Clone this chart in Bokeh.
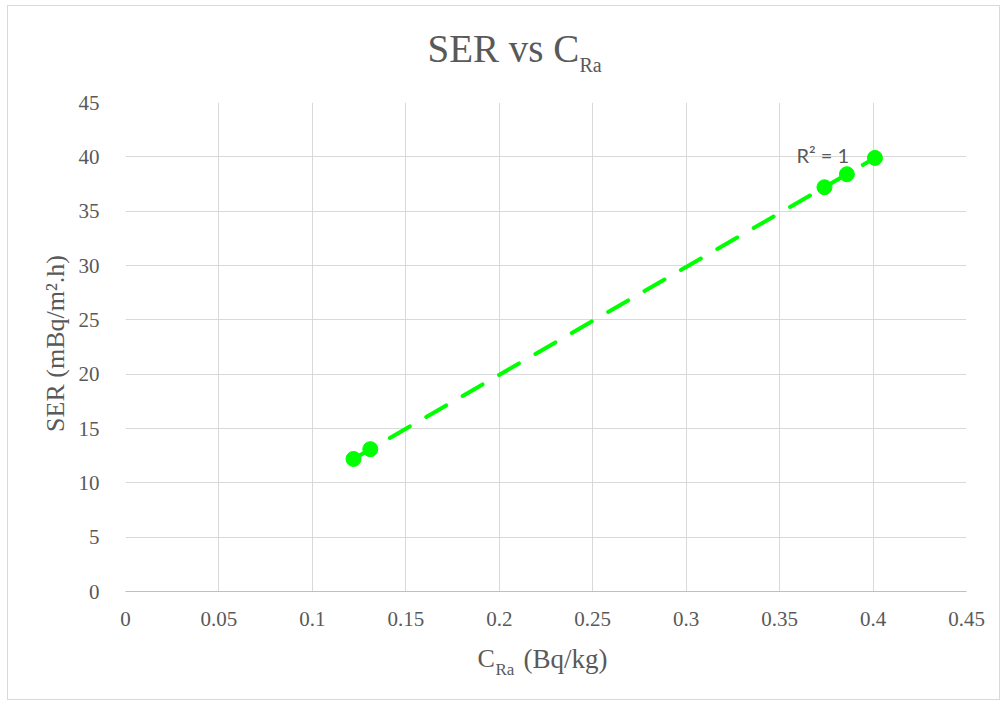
import numpy as np
from math import pi
from bokeh.plotting import figure
from bokeh.models import Label, FixedTicker
from bokeh.embed import file_html
from bokeh.resources import INLINE

# ---- data ----
c_ra = [0.122, 0.131, 0.374, 0.386, 0.401]
ser = [12.2, 13.1, 37.2, 38.4, 39.9]
x_ticks = [0, 0.05, 0.1, 0.15, 0.2, 0.25, 0.3, 0.35, 0.4, 0.45]
x_labels = ["0", "0.05", "0.1", "0.15", "0.2", "0.25", "0.3", "0.35", "0.4", "0.45"]
y_ticks = [0, 5, 10, 15, 20, 25, 30, 35, 40, 45]
y_labels = ["0", "5", "10", "15", "20", "25", "30", "35", "40", "45"]
title_main = "SER vs C"
title_sub = "Ra"
x_title_main = "C"
x_title_sub = "Ra"
x_title_rest = "(Bq/kg)"
y_title = "SER (mBq/m\u00b2.h)"
r2_text = "R\u00b2 = 1"

GREEN = "#00ff00"
GREY = "#595959"
SERIF = "Liberation Serif"

W, H = 993, 695
p = figure(width=W, height=H, x_range=(0, 0.45), y_range=(0, 45),
           output_backend="svg", toolbar_location=None,
           min_border_left=117, min_border_right=35,
           min_border_top=96, min_border_bottom=110,
           margin=(5, 0, 0, 7),
           styles={"border": "1px solid #d9d9d9"})
p.outline_line_color = None
p.background_fill_color = "white"
p.border_fill_color = "white"

p.xaxis.ticker = FixedTicker(ticks=x_ticks)
p.yaxis.ticker = FixedTicker(ticks=y_ticks)
p.xaxis.major_label_overrides = {t: l for t, l in zip(x_ticks, x_labels)}
p.yaxis.major_label_overrides = {t: l for t, l in zip(y_ticks, y_labels)}
for ax in (p.xaxis, p.yaxis):
    ax.major_tick_line_color = None
    ax.minor_tick_line_color = None
    ax.major_label_text_font = SERIF
    ax.major_label_text_font_size = "21px"
    ax.major_label_text_color = GREY
p.xaxis.axis_line_color = "#bfbfbf"
p.yaxis.axis_line_color = None
p.xaxis.major_label_standoff = 14
p.yaxis.major_label_standoff = 20
p.grid.grid_line_color = "#d9d9d9"
p.grid.grid_line_width = 1

# trendline (linear fit)
coef = np.polyfit(c_ra, ser, 1)
xs = [min(c_ra), max(c_ra)]
ys = list(np.polyval(coef, xs))
p.line(xs, ys, line_color=GREEN, line_width=4, line_dash="23 19", line_cap="round")
p.scatter(c_ra, ser, size=15, fill_color=GREEN, line_color=GREEN)

# labels outside the frame live in side panels (so they are not clipped);
# "canvas" units: pixels from the canvas' top-left corner
def lab(text, cx, cy, size, side, font=SERIF, angle=0, align="left", baseline="alphabetic"):
    p.add_layout(Label(x=cx, y=cy, x_units="canvas", y_units="canvas", text=text,
                       text_font=font, text_font_size=size, text_color=GREY,
                       angle=angle, text_align=align, text_baseline=baseline), side)

# title
lab(title_main, 418, 41, "39px", "above")
lab(title_sub, 570, 57, "20px", "above")
# x axis title
lab(x_title_main, 468, 651, "26px", "left")
lab(x_title_sub, 486, 662, "17px", "above")
lab(x_title_rest, 514, 651, "27px", "below")
# y axis title
lab(y_title, 46, 336, "26px", "left", angle=pi / 2, align="center", baseline="middle")
# R^2 label (inside the plot area)
p.add_layout(Label(x=671, y=425, x_units="screen", y_units="screen", text=r2_text,
                   text_font="Lato", text_font_size="20px", text_color=GREY))

open("out.html", "w").write(file_html(p, INLINE))
